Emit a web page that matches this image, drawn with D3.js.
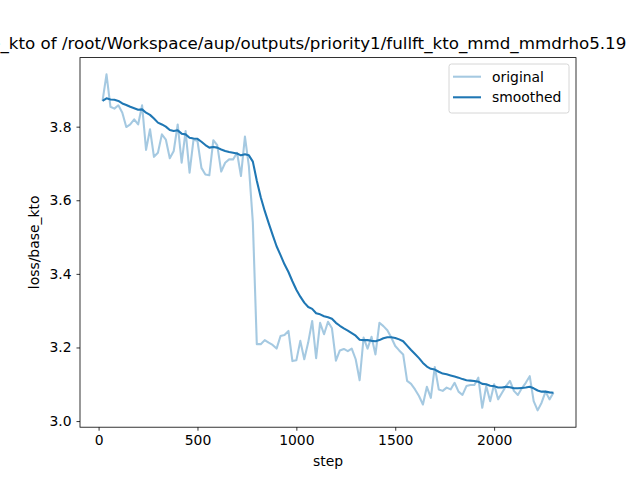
<!DOCTYPE html>
<meta charset="utf-8">
<style>
    body { margin: 0; background: #fff; }
    text { font-family: "DejaVu Sans", sans-serif; fill: #000; }
</style>
<svg width="640" height="480"></svg>
<script src="https://d3js.org/d3.v7.min.js"></script>

<script>
    // data
    var steps = d3.range(20, 2301, 20);
    var original = [
        3.870, 3.942, 3.854, 3.849, 3.858, 3.838, 3.799, 3.806, 3.820, 3.806,
        3.858, 3.737, 3.793, 3.718, 3.729, 3.779, 3.765, 3.714, 3.734, 3.806,
        3.702, 3.788, 3.675, 3.765, 3.761, 3.688, 3.670, 3.668, 3.763, 3.750,
        3.678, 3.702, 3.711, 3.711, 3.729, 3.666, 3.773, 3.692, 3.540, 3.209,
        3.209, 3.220, 3.213, 3.207, 3.197, 3.231, 3.234, 3.245, 3.163, 3.165,
        3.218, 3.168, 3.214, 3.272, 3.171, 3.267, 3.236, 3.270, 3.252, 3.164,
        3.192, 3.196, 3.190, 3.197, 3.168, 3.111, 3.227, 3.197, 3.229, 3.181,
        3.267, 3.258, 3.247, 3.227, 3.204, 3.192, 3.181, 3.109, 3.101, 3.086,
        3.068, 3.045, 3.093, 3.063, 3.147, 3.086, 3.082, 3.091, 3.086, 3.104,
        3.080, 3.071, 3.095, 3.098, 3.098, 3.118, 3.036, 3.095, 3.054, 3.100,
        3.059, 3.077, 3.095, 3.109, 3.082, 3.071, 3.089, 3.104, 3.122, 3.054,
        3.029, 3.050, 3.080, 3.059, 3.077
    ];
    var smoothed = [
        3.870, 3.877, 3.874, 3.873, 3.870, 3.863, 3.859, 3.854, 3.850, 3.846,
        3.847, 3.838, 3.832, 3.822, 3.811, 3.806, 3.800, 3.791, 3.788, 3.790,
        3.781, 3.779, 3.770, 3.768, 3.767, 3.759, 3.750, 3.743, 3.745, 3.743,
        3.738, 3.734, 3.731, 3.729, 3.727, 3.722, 3.725, 3.722, 3.705, 3.653,
        3.608, 3.571, 3.538, 3.506, 3.475, 3.451, 3.426, 3.405, 3.380, 3.357,
        3.338, 3.322, 3.310, 3.305, 3.293, 3.290, 3.285, 3.282, 3.278, 3.267,
        3.259, 3.252, 3.246, 3.239, 3.232, 3.221, 3.220, 3.220, 3.218, 3.217,
        3.220, 3.225, 3.228, 3.228, 3.226, 3.222, 3.217, 3.205, 3.193, 3.182,
        3.171, 3.158, 3.148, 3.142, 3.140, 3.134, 3.129, 3.127, 3.124, 3.121,
        3.118, 3.114, 3.111, 3.110, 3.109, 3.107, 3.101, 3.100, 3.096, 3.095,
        3.091, 3.091, 3.093, 3.092, 3.089, 3.089, 3.090, 3.091, 3.093, 3.089,
        3.083, 3.080, 3.080, 3.078, 3.077
    ];
    var xTicks = [0, 500, 1000, 1500, 2000];
    var yTicks = [3.0, 3.2, 3.4, 3.6, 3.8];
    var seriesNames = ["original", "smoothed"];
    var titleText = "loss/base_kto of /root/Workspace/aup/outputs/priority1/fullft_kto_mmd_mmdrho5.19";
</script>

<script>
    var svg = d3.select("svg");
    // note: "top" is taken by window.top, so use a prefix
    var pLeft = 80, pRight = 576, pTop = 57.6, pBottom = 427.2;
    var blue = "#1f77b4";
    var fontSize = 13.9;

    // matplotlib style 5% margins
    var allVals = original.concat(smoothed);
    var xr = d3.extent(steps), yr = d3.extent(allVals);
    var xm = (xr[1] - xr[0]) * 0.05, ym = (yr[1] - yr[0]) * 0.05;
    var x = d3.scaleLinear().domain([xr[0] - xm, xr[1] + xm]).range([pLeft, pRight]);
    var y = d3.scaleLinear().domain([yr[0] - ym, yr[1] + ym]).range([pBottom, pTop]);

    var line = d3.line()
        .x(function (d, i) { return x(steps[i]); })
        .y(function (d) { return y(d); });

    svg.append("path")
        .attr("d", line(original))
        .attr("fill", "none")
        .attr("stroke", blue)
        .attr("stroke-opacity", 0.4)
        .attr("stroke-width", 2.08)
        .attr("stroke-linejoin", "round");
    svg.append("path")
        .attr("d", line(smoothed))
        .attr("fill", "none")
        .attr("stroke", blue)
        .attr("stroke-width", 2.08)
        .attr("stroke-linejoin", "round");

    // axes
    var xAxis = d3.axisBottom(x).tickValues(xTicks).tickSize(3.5).tickPadding(4.9).tickFormat(d3.format("d"));
    var yAxis = d3.axisLeft(y).tickValues(yTicks).tickSize(3.5).tickPadding(4.9).tickFormat(d3.format(".1f"));
    var gx = svg.append("g").attr("transform", "translate(0," + pBottom + ")").call(xAxis);
    var gy = svg.append("g").attr("transform", "translate(" + pLeft + ",0)").call(yAxis);
    [gx, gy].forEach(function (g) {
        g.select(".domain").remove();
        g.selectAll("line").attr("stroke", "#000").attr("stroke-width", 0.8);
        g.selectAll("text").attr("font-size", fontSize).attr("font-family", "DejaVu Sans").attr("fill", "#000");
    });

    svg.append("rect")
        .attr("x", pLeft).attr("y", pTop)
        .attr("width", pRight - pLeft).attr("height", pBottom - pTop)
        .attr("fill", "none").attr("stroke", "#000").attr("stroke-width", 0.8);

    svg.append("text")
        .attr("x", (pLeft + pRight) / 2).attr("y", 466)
        .attr("text-anchor", "middle").attr("font-size", fontSize)
        .text("step");
    svg.append("text")
        .attr("transform", "translate(39," + (pTop + pBottom) / 2 + ") rotate(-90)")
        .attr("text-anchor", "middle").attr("font-size", fontSize)
        .text("loss/base_kto");

    // title runs off both sides of the figure
    var title = svg.append("text")
        .attr("y", 48.8).attr("font-size", 16.7)
        .text(titleText);
    var prefix = title.node().getSubStringLength(0, titleText.indexOf("_kto"));
    title.attr("x", 0.5 - prefix);

    // legend
    var lg = svg.append("g").attr("transform", "translate(449,64)");
    lg.append("rect")
        .attr("width", 120).attr("height", 49).attr("rx", 2.5)
        .attr("fill", "#fff").attr("fill-opacity", 0.8)
        .attr("stroke", "#ccc").attr("stroke-width", 0.8);
    seriesNames.forEach(function (name, i) {
        var ly = 12.7 + i * 20.6;
        lg.append("line")
            .attr("x1", 4).attr("x2", 32).attr("y1", ly).attr("y2", ly)
            .attr("stroke", blue).attr("stroke-width", 2.08)
            .attr("stroke-opacity", i === 0 ? 0.4 : 1);
        lg.append("text")
            .attr("x", 43).attr("y", ly + 5)
            .attr("font-size", fontSize)
            .text(name);
    });
</script>
